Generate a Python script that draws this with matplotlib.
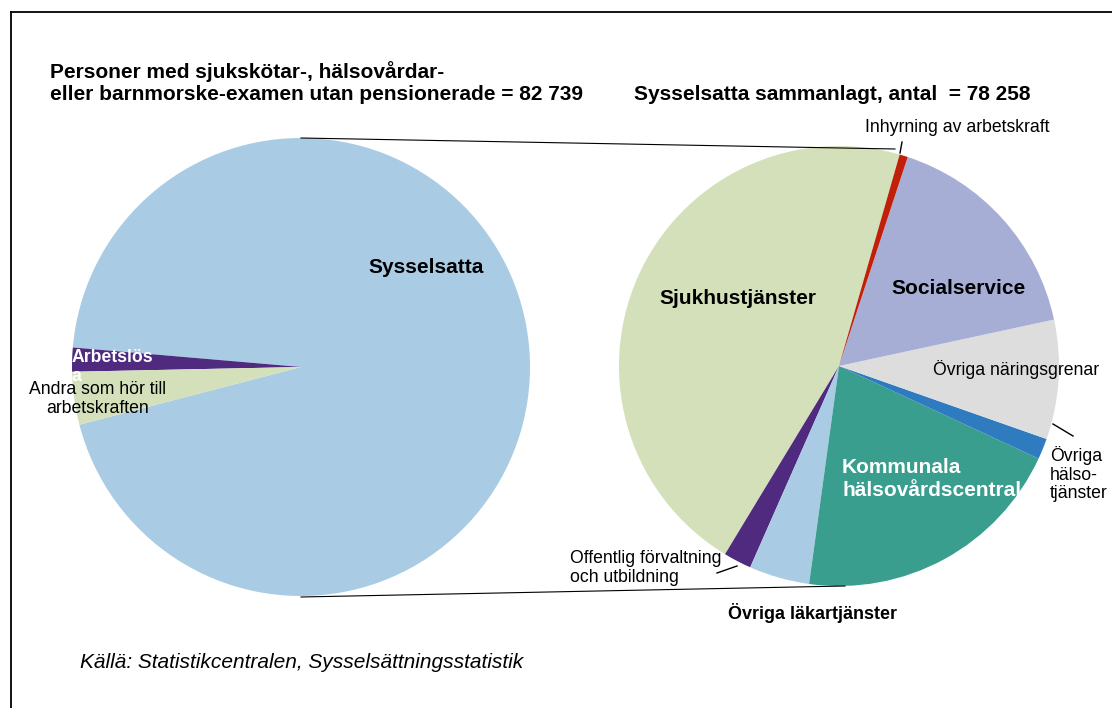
import matplotlib
matplotlib.use("Agg")
import matplotlib.pyplot as plt
from matplotlib.lines import Line2D

plt.rcParams['font.family'] = ['Liberation Sans', 'DejaVu Sans']

# ---- data ----
left_labels = ["Sysselsatta", "Arbetslösa", "Andra som hör till arbetskraften"]
left_values = [78258, 1400, 3081]
left_colors = ["#A9CCE4", "#4F2A7E", "#D3E0BA"]

right_labels = ["Sjukhustjänster", "Offentlig förvaltning och utbildning",
                "Övriga läkartjänster", "Kommunala hälsovårdscentral",
                "Övriga hälsotjänster", "Övriga näringsgrenar",
                "Socialservice", "Inhyrning av arbetskraft"]
right_values = [35865, 1610, 3480, 15870, 1200, 6870, 12972, 480]
right_colors = ["#D3E0BA", "#4F2A7E", "#A9CCE4", "#3A9E8F",
                "#2E7BC0", "#DDDDDD", "#A7AED6", "#C0200A"]

W, H = 1112, 708
fig = plt.figure(figsize=(W / 100, H / 100), dpi=100)


def fx(x):
    return x / W


def fy(y):
    return 1 - y / H


def pie_axes(cx, cy, r):
    ax = fig.add_axes([fx(cx - r), fy(cy + r), 2 * r / W, 2 * r / H])
    ax.set_xlim(-1, 1)
    ax.set_ylim(-1, 1)
    ax.set_aspect('equal')
    ax.axis('off')
    return ax


axL = pie_axes(301, 367, 229)
axL.pie(left_values, colors=left_colors, startangle=194.6, counterclock=True,
        radius=1, wedgeprops=dict(linewidth=0))
axL.set_xlim(-1, 1); axL.set_ylim(-1, 1)

axR = pie_axes(839, 366, 220)
axR.pie(right_values, colors=right_colors, startangle=74.0, counterclock=True,
        radius=1, wedgeprops=dict(linewidth=0))
axR.set_xlim(-1, 1); axR.set_ylim(-1, 1)

# frame
fig.add_artist(Line2D([fx(11), fx(11)], [fy(12), 0], color='black', lw=1.3, transform=fig.transFigure))
fig.add_artist(Line2D([fx(11), 1], [fy(12), fy(12)], color='black', lw=1.3, transform=fig.transFigure))

# connector lines
fig.add_artist(Line2D([fx(301), fx(895)], [fy(138), fy(149)], color='black', lw=0.8, transform=fig.transFigure))
fig.add_artist(Line2D([fx(301), fx(845)], [fy(597), fy(586)], color='black', lw=0.8, transform=fig.transFigure))

# leader lines
for (x1, y1, x2, y2) in [(900, 153, 902, 142), (1053, 424, 1073, 436), (717, 573, 737, 566)]:
    fig.add_artist(Line2D([fx(x1), fx(x2)], [fy(y1), fy(y2)], color='black', lw=1, transform=fig.transFigure))

TB = 15      # bold titles / large labels
TN = 12.7    # normal labels

# titles
fig.text(fx(50), fy(72), "Personer med sjukskötar-, hälsovårdar-", fontsize=TB, fontweight='bold', va='center', ha='left')
fig.text(fx(50), fy(94), "eller barnmorske-examen utan pensionerade = 82 739", fontsize=TB, fontweight='bold', va='center', ha='left')
fig.text(fx(634), fy(94), "Sysselsatta sammanlagt, antal  = 78 258", fontsize=TB, fontweight='bold', va='center', ha='left')

# left labels
fig.text(fx(426), fy(268), "Sysselsatta", fontsize=TB, fontweight='bold', ha='center', va='center')
fig.text(fx(72), fy(358), "Arbetslös", fontsize=TN, fontweight='bold', color='white', ha='left', va='center')
fig.text(fx(72), fy(377), "a", fontsize=TN, fontweight='bold', color='white', ha='left', va='center')
fig.text(fx(98), fy(399), "Andra som hör till\narbetskraften", fontsize=TN, ha='center', va='center', linespacing=1.15)

# right labels
fig.text(fx(738), fy(299), "Sjukhustjänster", fontsize=TB, fontweight='bold', ha='center', va='center')
fig.text(fx(959), fy(289), "Socialservice", fontsize=TB, fontweight='bold', ha='center', va='center')
fig.text(fx(1016), fy(369), "Övriga näringsgrenar", fontsize=TN, ha='center', va='center')
fig.text(fx(1050), fy(474), "Övriga\nhälso-\ntjänster", fontsize=TN, ha='left', va='center', linespacing=1.15)
fig.text(fx(842), fy(479), "Kommunala\nhälsovårdscentral", fontsize=TB, fontweight='bold', color='white', ha='left', va='center', linespacing=1.22)
fig.text(fx(570), fy(568), "Offentlig förvaltning\noch utbildning", fontsize=TN, ha='left', va='center', linespacing=1.18)
fig.text(fx(812), fy(613), "Övriga läkartjänster", fontsize=13, fontweight='bold', ha='center', va='center')
fig.text(fx(957), fy(127), "Inhyrning av arbetskraft", fontsize=TN, ha='center', va='center')

fig.text(fx(80), fy(663), "Källä: Statistikcentralen, Sysselsättningsstatistik", fontsize=15, style='italic', ha='left', va='center')

fig.savefig("out.png", dpi=100)
